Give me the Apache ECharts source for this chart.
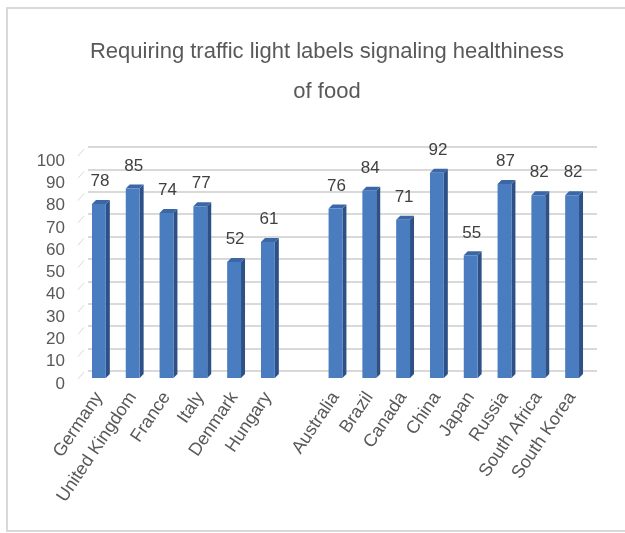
<!DOCTYPE html>
<html>
<head>
<meta charset="utf-8">
<script src="https://cdn.jsdelivr.net/npm/echarts@6/dist/echarts.min.js"></script>
<style>
  html, body { margin: 0; padding: 0; background: #ffffff; }
  #chart { width: 625px; height: 533px; }
</style>
</head>
<body>
<div id="chart"></div>
<script>
// Countries (empty slot separates the European group from the rest)
const countries = ['Germany', 'United Kingdom', 'France', 'Italy', 'Denmark', 'Hungary', '',
  'Australia', 'Brazil', 'Canada', 'China', 'Japan', 'Russia', 'South Africa', 'South Korea'];
// Share (%) requiring traffic light labels
const shares = [78, 85, 74, 77, 52, 61, null, 76, 84, 71, 92, 55, 87, 82, 82];
// Value axis ticks
const tickValues = [0, 10, 20, 30, 40, 50, 60, 70, 80, 90, 100];

const FONT = '"Liberation Sans", sans-serif';
const TEXT = '#595959';
const DEPTH_X = 4, DEPTH_Y = 4;      // bar depth (pseudo 3D)
const WALL_X = 6, WALL_Y = 7;        // floor/wall depth

const chart = echarts.init(document.getElementById('chart'), null, { renderer: 'canvas' });

function renderBar(params, api) {
  const v = api.value(1);
  if (v == null || isNaN(v)) return null;
  const top = api.coord([api.value(0), v]);
  const base = api.coord([api.value(0), 0]);
  const band = api.size([1, 0])[0];
  const w = band * 0.41;
  const x0 = top[0] - w / 2, x1 = top[0] + w / 2;
  const yT = top[1], yB = base[1];
  return {
    type: 'group',
    children: [
      { type: 'polygon', shape: { points: [[x1, yT], [x1 + DEPTH_X, yT - DEPTH_Y], [x1 + DEPTH_X, yB - DEPTH_Y], [x1, yB]] },
        style: { fill: '#2d5186' } },
      { type: 'polygon', shape: { points: [[x0, yT], [x0 + DEPTH_X, yT - DEPTH_Y], [x1 + DEPTH_X, yT - DEPTH_Y], [x1, yT]] },
        style: { fill: '#3b67a6' } },
      { type: 'rect', shape: { x: x0, y: yT, width: w, height: yB - yT },
        style: { fill: '#4a7dc0' } },
      { type: 'text', style: { text: String(v), x: top[0] + 1, y: yT - 14, align: 'center', verticalAlign: 'bottom',
        fill: '#404040', font: '17px ' + FONT } }
    ]
  };
}

function renderWall(params, api) {
  const p = api.coord([0, api.value(0)]);
  const left = params.coordSys.x;
  return {
    type: 'line',
    shape: { x1: left - 4, y1: p[1] + 1, x2: left - 4 + WALL_X, y2: p[1] + 1 - WALL_Y },
    style: { stroke: '#d9d9d9', lineWidth: 1 }
  };
}

chart.setOption({
  animation: false,
  backgroundColor: '#ffffff',
  title: {
    text: 'Requiring traffic light labels signaling healthiness\nof food',
    left: 322,
    textAlign: 'center',
    top: 27,
    textStyle: { fontFamily: FONT, fontSize: 22, fontWeight: 'normal', color: TEXT, lineHeight: 40 }
  },
  graphic: [
    { type: 'polyline', shape: { points: [[625, 8], [7, 8], [7, 531], [625, 531]] },
      style: { stroke: '#d9d9d9', lineWidth: 2, fill: null }, silent: true }
  ],
  grid: [
    { left: 88, right: 28, top: 147, bottom: 162 },
    { left: 82, right: 36, top: 155, bottom: 155 }
  ],
  xAxis: [
    { gridIndex: 0, type: 'category', data: countries, show: false },
    { gridIndex: 1, type: 'category', data: countries,
      axisLine: { show: false }, axisTick: { show: false },
      axisLabel: { interval: 0, rotate: 56, margin: 16, color: TEXT, fontFamily: FONT, fontSize: 18 } }
  ],
  yAxis: [
    { gridIndex: 0, type: 'value', min: 0, max: 100, interval: 10,
      axisLine: { show: false }, axisTick: { show: false }, axisLabel: { show: false },
      splitLine: { lineStyle: { color: '#d9d9d9', width: 2 } } },
    { gridIndex: 1, type: 'value', min: 0, max: 100, interval: 10,
      axisLine: { show: false }, axisTick: { show: false }, splitLine: { show: false },
      axisLabel: { margin: 17, color: TEXT, fontFamily: FONT, fontSize: 17,
        verticalAlign: 'top', lineHeight: 12,
        customValues: tickValues, formatter: v => String(v) } }
  ],
  series: [
    { type: 'custom', xAxisIndex: 1, yAxisIndex: 1, renderItem: renderWall,
      data: tickValues.map(v => [v]), silent: true, z: 1 },
    { type: 'custom', xAxisIndex: 1, yAxisIndex: 1, renderItem: renderBar,
      data: shares.map((v, i) => [i, v]), encode: { x: 0, y: 1 }, z: 3 }
  ]
});
</script>
</body>
</html>
